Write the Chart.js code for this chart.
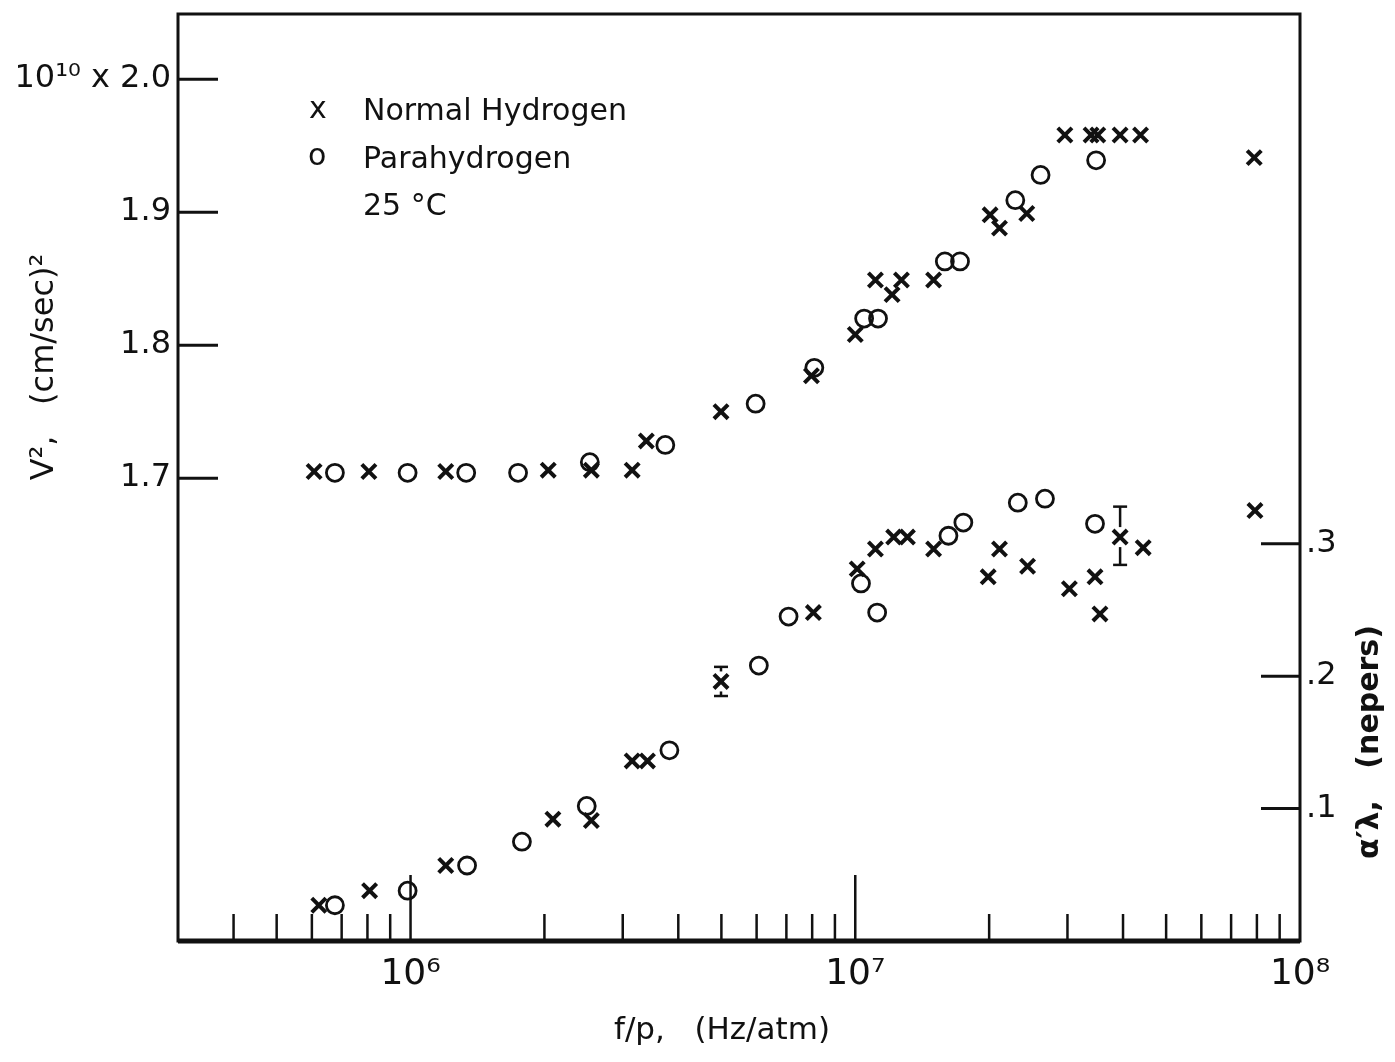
<!DOCTYPE html>
<html>
<head>
<meta charset="utf-8">
<script src="https://cdn.jsdelivr.net/npm/chart.js@4"></script>
<style>
	body { margin: 0; background: #fff; }
	#wrap { width: 1395px; height: 1062px; }
</style>
</head>
<body>
<div id="wrap"><canvas id="sound-chart" width="1395" height="1062"></canvas></div>
<script>
// V^2 (units of 10^10 (cm/sec)^2) against f/p (Hz/atm)
const freqNormalV = [6.07e5, 8.06e5, 1.20e6, 2.04e6, 2.55e6, 3.15e6, 3.39e6, 4.99e6, 7.97e6, 1.0e7, 1.11e7, 1.21e7, 1.27e7, 1.50e7, 2.01e7, 2.11e7, 2.43e7, 2.96e7, 3.39e7, 3.51e7, 3.94e7, 4.38e7, 7.89e7];
const normalV = [1.705, 1.705, 1.705, 1.706, 1.706, 1.706, 1.728, 1.750, 1.777, 1.808, 1.849, 1.838, 1.849, 1.849, 1.898, 1.888, 1.899, 1.958, 1.958, 1.958, 1.958, 1.958, 1.941];

const freqParaV = [6.76e5, 9.85e5, 1.334e6, 1.745e6, 2.53e6, 3.74e6, 5.97e6, 8.09e6, 1.047e7, 1.125e7, 1.59e7, 1.72e7, 2.29e7, 2.61e7, 3.48e7];
const paraV = [1.704, 1.704, 1.704, 1.704, 1.712, 1.725, 1.756, 1.783, 1.820, 1.820, 1.863, 1.863, 1.909, 1.928, 1.939];

// alpha' lambda (nepers) against f/p
const freqNormalA = [6.22e5, 8.09e5, 1.2e6, 2.09e6, 2.55e6, 3.15e6, 3.41e6, 4.99e6, 8.05e6, 1.01e7, 1.11e7, 1.22e7, 1.31e7, 1.50e7, 1.99e7, 2.11e7, 2.44e7, 3.03e7, 3.46e7, 3.55e7, 3.94e7, 4.44e7, 7.92e7];
const normalA = [0.027, 0.038, 0.057, 0.092, 0.091, 0.136, 0.136, 0.196, 0.248, 0.281, 0.296, 0.305, 0.305, 0.296, 0.275, 0.296, 0.283, 0.266, 0.275, 0.247, 0.305, 0.297, 0.325];

const freqParaA = [6.76e5, 9.85e5, 1.34e6, 1.78e6, 2.49e6, 3.82e6, 6.07e6, 7.08e6, 1.03e7, 1.12e7, 1.62e7, 1.75e7, 2.32e7, 2.67e7, 3.46e7];
const paraA = [0.027, 0.038, 0.057, 0.075, 0.102, 0.144, 0.208, 0.245, 0.270, 0.248, 0.306, 0.316, 0.331, 0.334, 0.315];

// error bars on two normal hydrogen attenuation points
const errFreq = [4.99e6, 3.94e7];
const errValue = [0.196, 0.305];
const errLow = [0.185, 0.284];
const errHigh = [0.207, 0.328];

// ticks
const xMajorTicks = [1e6, 1e7, 1e8];
const xMajorLabels = ["10⁶", "10⁷", "10⁸"];
const xMinorTicks = [4e5, 5e5, 6e5, 7e5, 8e5, 9e5, 2e6, 3e6, 4e6, 5e6, 6e6, 7e6, 8e6, 9e6, 2e7, 3e7, 4e7, 5e7, 6e7, 7e7, 8e7, 9e7];
const leftTicks = [1.7, 1.8, 1.9, 2.0];
const leftLabels = ["1.7", "1.8", "1.9", "10¹⁰ x 2.0"];
const rightTicks = [0.1, 0.2, 0.3];
const rightLabels = [".1", ".2", ".3"];

const legendItems = ["Normal Hydrogen", "Parahydrogen", "25 °C"];

const FONT = "'DejaVu Sans', sans-serif";
const INK = "#111";

function toPoints(xs, ys)
{
	return xs.map(function (x, i) { return {x: x, y: ys[i]}; });
}

function line(ctx, x1, y1, x2, y2)
{
	ctx.beginPath();
	ctx.moveTo(x1, y1);
	ctx.lineTo(x2, y2);
	ctx.stroke();
}

// no extra room for labels hanging over the ends of an axis
function noPadding(s)
{
	s.paddingTop = 0;
	s.paddingBottom = 0;
	s.paddingLeft = 0;
	s.paddingRight = 0;
}

const crossStyle = {pointStyle: "crossRot", pointRadius: 10, borderWidth: 4, borderColor: INK, backgroundColor: INK};
const circleStyle = {pointStyle: "circle", pointRadius: 8.5, borderWidth: 2.8, borderColor: INK, backgroundColor: "rgba(0,0,0,0)"};

// frame, inward ticks, error bars, titles and legend
const decorations = {
	id: "decorations",
	afterDatasetsDraw(chart)
	{
		const ctx = chart.ctx;
		const y2 = chart.scales.y2;
		const x = chart.scales.x;
		ctx.save();
		ctx.strokeStyle = INK;
		ctx.lineWidth = 2.5;
		errFreq.forEach(function (f, i)
		{
			const px = x.getPixelForValue(f);
			const pv = y2.getPixelForValue(errValue[i]);
			const lo = y2.getPixelForValue(errLow[i]);
			const hi = y2.getPixelForValue(errHigh[i]);
			line(ctx, px, hi, px, Math.min(pv - 10, lo));
			line(ctx, px, Math.max(pv + 10, hi), px, lo);
			line(ctx, px - 7, hi, px + 7, hi);
			line(ctx, px - 7, lo, px + 7, lo);
		});
		ctx.restore();
	},
	afterDraw(chart)
	{
		const ctx = chart.ctx;
		const a = chart.chartArea;
		const sx = chart.scales.x;
		const sy = chart.scales.y;
		const sy2 = chart.scales.y2;
		ctx.save();
		ctx.strokeStyle = INK;
		ctx.fillStyle = INK;

		ctx.lineWidth = 3;
		ctx.strokeRect(a.left, a.top, a.right - a.left, a.bottom - a.top);
		ctx.lineWidth = 5;
		line(ctx, a.left, a.bottom, a.right, a.bottom);

		ctx.lineWidth = 2.5;
		xMinorTicks.forEach(function (v)
		{
			const px = sx.getPixelForValue(v);
			line(ctx, px, a.bottom, px, a.bottom - 27);
		});
		[1e6, 1e7].forEach(function (v)
		{
			const px = sx.getPixelForValue(v);
			line(ctx, px, a.bottom, px, a.bottom - 66);
		});

		ctx.lineWidth = 3;
		leftTicks.forEach(function (v)
		{
			const py = sy.getPixelForValue(v);
			line(ctx, a.left, py, a.left + 40, py);
		});
		rightTicks.forEach(function (v)
		{
			const py = sy2.getPixelForValue(v);
			line(ctx, a.right - 39, py, a.right, py);
		});

		// axis titles
		ctx.textAlign = "center";
		ctx.textBaseline = "middle";
		ctx.font = "31px " + FONT;
		ctx.fillText("f/p,   (Hz/atm)", 722, 1031);

		ctx.save();
		ctx.translate(45, 367);
		ctx.rotate(-Math.PI / 2);
		ctx.font = "32px " + FONT;
		ctx.fillText("V²,   (cm/sec)²", 0, 0);
		ctx.restore();

		ctx.save();
		ctx.translate(1370, 742);
		ctx.rotate(-Math.PI / 2);
		ctx.font = "bold 30px " + FONT;
		ctx.fillText("α′λ,   (nepers)", 0, 0);
		ctx.restore();

		// legend
		ctx.textAlign = "left";
		ctx.font = "30px " + FONT;
		ctx.fillText("x", 309, 110);
		ctx.fillText("o", 308, 157);
		ctx.fillText(legendItems[0], 363, 112);
		ctx.fillText(legendItems[1], 363, 160);
		ctx.fillText(legendItems[2], 363, 207);
		ctx.restore();
	}
};

const chartCanvas = document.getElementById("sound-chart");

const chart = new Chart(chartCanvas, {
	type: "scatter",
	data: {
		datasets: [
			Object.assign({label: "Normal Hydrogen V²", data: toPoints(freqNormalV, normalV), yAxisID: "y"}, crossStyle),
			Object.assign({label: "Parahydrogen V²", data: toPoints(freqParaV, paraV), yAxisID: "y"}, circleStyle),
			Object.assign({label: "Normal Hydrogen α′λ", data: toPoints(freqNormalA, normalA), yAxisID: "y2"}, crossStyle),
			Object.assign({label: "Parahydrogen α′λ", data: toPoints(freqParaA, paraA), yAxisID: "y2"}, circleStyle)
		]
	},
	options: {
		responsive: false,
		animation: false,
		layout: {padding: {top: 12, left: 0, right: 0, bottom: 0}},
		plugins: {legend: {display: false}, tooltip: {enabled: false}},
		scales: {
			x: {
				type: "logarithmic", min: 3e5, max: 1e8,
				grid: {display: false, drawTicks: false},
				border: {display: false},
				afterBuildTicks: function (s) { s.ticks = xMajorTicks.map(function (v) { return {value: v}; }); },
				afterFit: function (s) { s.height = 121; noPadding(s); },
				ticks: {
					autoSkip: false, maxRotation: 0, padding: 12, color: INK,
					font: {family: FONT, size: 36},
					callback: function (v) { const i = xMajorTicks.indexOf(v); return i >= 0 ? xMajorLabels[i] : ""; }
				}
			},
			y: {
				position: "left", min: 1.352, max: 2.049,
				grid: {display: false, drawTicks: false},
				border: {display: false},
				afterBuildTicks: function (s) { s.ticks = leftTicks.map(function (v) { return {value: v}; }); },
				afterFit: function (s) { s.width = 178; noPadding(s); },
				ticks: {
					padding: 7, color: INK, font: {family: FONT, size: 32},
					callback: function (v, i) { return leftLabels[i]; }
				}
			},
			y2: {
				position: "right", min: 0, max: 0.7,
				grid: {display: false, drawTicks: false},
				border: {display: false},
				afterBuildTicks: function (s) { s.ticks = rightTicks.map(function (v) { return {value: v}; }); },
				afterFit: function (s) { s.width = 95; noPadding(s); },
				ticks: {
					padding: 6, color: INK, font: {family: FONT, size: 32},
					callback: function (v, i) { return rightLabels[i]; }
				}
			}
		}
	},
	plugins: [decorations]
});
</script>
</body>
</html>
